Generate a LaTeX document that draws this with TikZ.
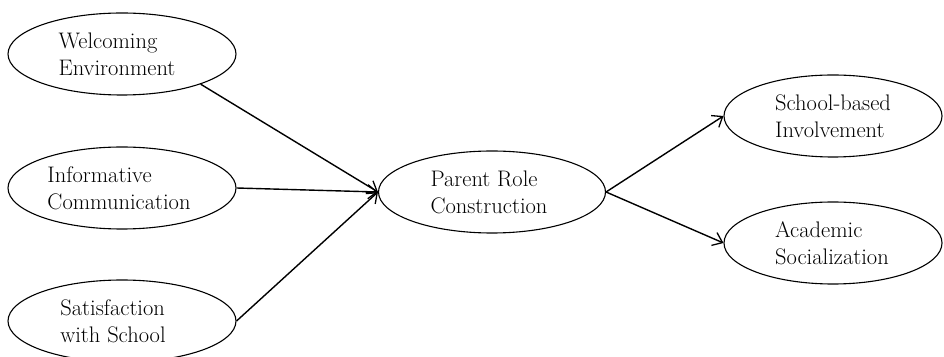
\documentclass[tikz,border=0pt]{standalone}
\usetikzlibrary{shapes.geometric,arrows.meta}
\begin{document}
\begin{tikzpicture}[x=1pt,y=1pt,
  construct/.style={ellipse,draw,line width=1.1pt,inner sep=0pt,
    minimum width=228pt,minimum height=82pt},
  txt/.style={align=left,inner sep=0pt,font=\fontsize{22.5}{27}\selectfont},
  path/.style={line width=1.4pt,-{Straight Barb[length=9pt,width=14pt,line width=1.3pt]}}]
\useasboundingbox (0,0) rectangle (944,356);
\node[construct,label={[txt,xshift=-5pt]center:{Welcoming\\Environment}}] (w) at (122,302) {};
\node[construct,label={[txt,xshift=-3pt]center:{Informative\\Communication}}] (i) at (122,168) {};
\node[construct,label={[txt,xshift=-9pt]center:{Satisfaction\\with School}}] (s) at (122,35) {};
\node[construct,minimum width=227pt,label={[txt,xshift=-3pt]center:{Parent Role\\Construction}}] (p) at (492,164) {};
\node[construct,minimum width=218pt,label={[txt,xshift=0pt]center:{School-based\\Involvement}}] (sb) at (833,240) {};
\node[construct,minimum width=218pt,label={[txt,xshift=-1pt]center:{Academic\\Socialization}}] (a) at (833,113) {};
\draw[path] (w.-21) -- (p.west);
\draw[path] (i.east) -- (p.west);
\draw[path] (s.east) -- (p.west);
\draw[path] (p.east) -- (sb.west);
\draw[path] (p.east) -- (a.west);
\end{tikzpicture}
\end{document}
